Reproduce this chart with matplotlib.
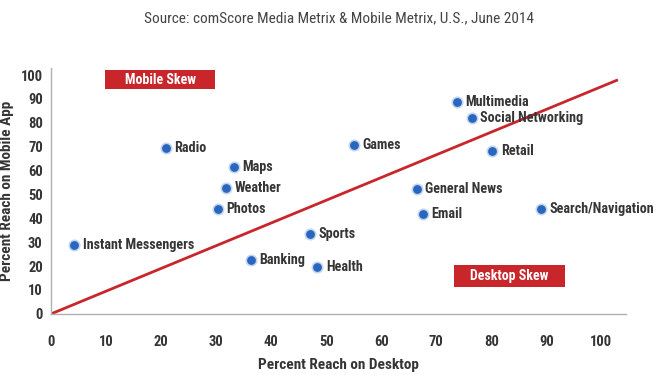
import matplotlib
matplotlib.use('Agg')
import matplotlib.pyplot as plt
from matplotlib.patches import Rectangle

plt.rcParams['font.family'] = ['Roboto Condensed', 'DejaVu Sans']

categories = ['Instant Messengers', 'Radio', 'Maps', 'Weather', 'Photos', 'Banking',
              'Sports', 'Health', 'Games', 'Multimedia', 'Social Networking', 'Retail',
              'General News', 'Email', 'Search/Navigation']
desktop = [4.2, 20.9, 33.3, 31.8, 30.4, 36.4, 47.1, 48.4, 55.1, 73.8, 76.4, 80.2, 66.4, 67.6, 89.1]
mobile = [29.0, 69.5, 61.5, 52.7, 43.9, 22.6, 33.5, 19.7, 70.7, 88.7, 82.0, 68.2, 52.3, 41.8, 43.9]
ticks = [0, 10, 20, 30, 40, 50, 60, 70, 80, 90, 100]
line_x = [0, 103]
line_y = [0, 98]

txt = '#353535'
red = '#c8262b'

fig = plt.figure(figsize=(6.55, 3.75), dpi=100)
ax = fig.add_axes([0.078, 0.163, 0.878, 0.656])

ax.plot(line_x, line_y, color=red, lw=2, zorder=2, solid_capstyle='butt')
ax.scatter(desktop, mobile, s=75, color='#9cbbe6', alpha=0.6, zorder=3, linewidths=0)
ax.scatter(desktop, mobile, s=40, color='#2b66be', zorder=4, linewidths=0)
for name, x, y in zip(categories, desktop, mobile):
    ax.annotate(name, (x, y), xytext=(6, 0), textcoords='offset points',
                va='center', ha='left', fontsize=10.2, fontweight='bold', color=txt, zorder=5)

ax.set_xlim(0, 104.5)
ax.set_ylim(0, 103)
ax.set_xticks(ticks)
ax.set_yticks(ticks)
ax.tick_params(length=0, labelsize=10.5, colors=txt, pad=6)
for lab in ax.get_xticklabels() + ax.get_yticklabels():
    lab.set_fontweight('bold')
ax.tick_params(axis='x', pad=15)
for side in ['top', 'right']:
    ax.spines[side].set_visible(False)
for side in ['left', 'bottom']:
    ax.spines[side].set_color('#b0b0b0')
    ax.spines[side].set_linewidth(1)

ax.set_xlabel('Percent Reach on Desktop', fontsize=11, fontweight='bold', color=txt, labelpad=7)
ax.set_ylabel('Percent Reach on Mobile App', fontsize=11, fontweight='bold', color=txt, labelpad=5)

# skew boxes
for x0, x1, y0, y1, label in [(9.8, 29.8, 94.1, 102.1, 'Mobile Skew'),
                              (73.3, 93.3, 11.3, 20.5, 'Desktop Skew')]:
    ax.add_patch(Rectangle((x0, y0), x1 - x0, y1 - y0, facecolor=red, edgecolor='none',
                           zorder=5, clip_on=False))
    ax.text((x0 + x1) / 2, (y0 + y1) / 2, label, ha='center', va='center', fontsize=10,
            fontweight='bold', color='white', zorder=6)

fig.text(0.518, 0.952, 'Source: comScore Media Metrix & Mobile Metrix, U.S., June 2014',
         ha='center', va='center', fontsize=11, color='#444444')

fig.savefig('out.png', dpi=100)
